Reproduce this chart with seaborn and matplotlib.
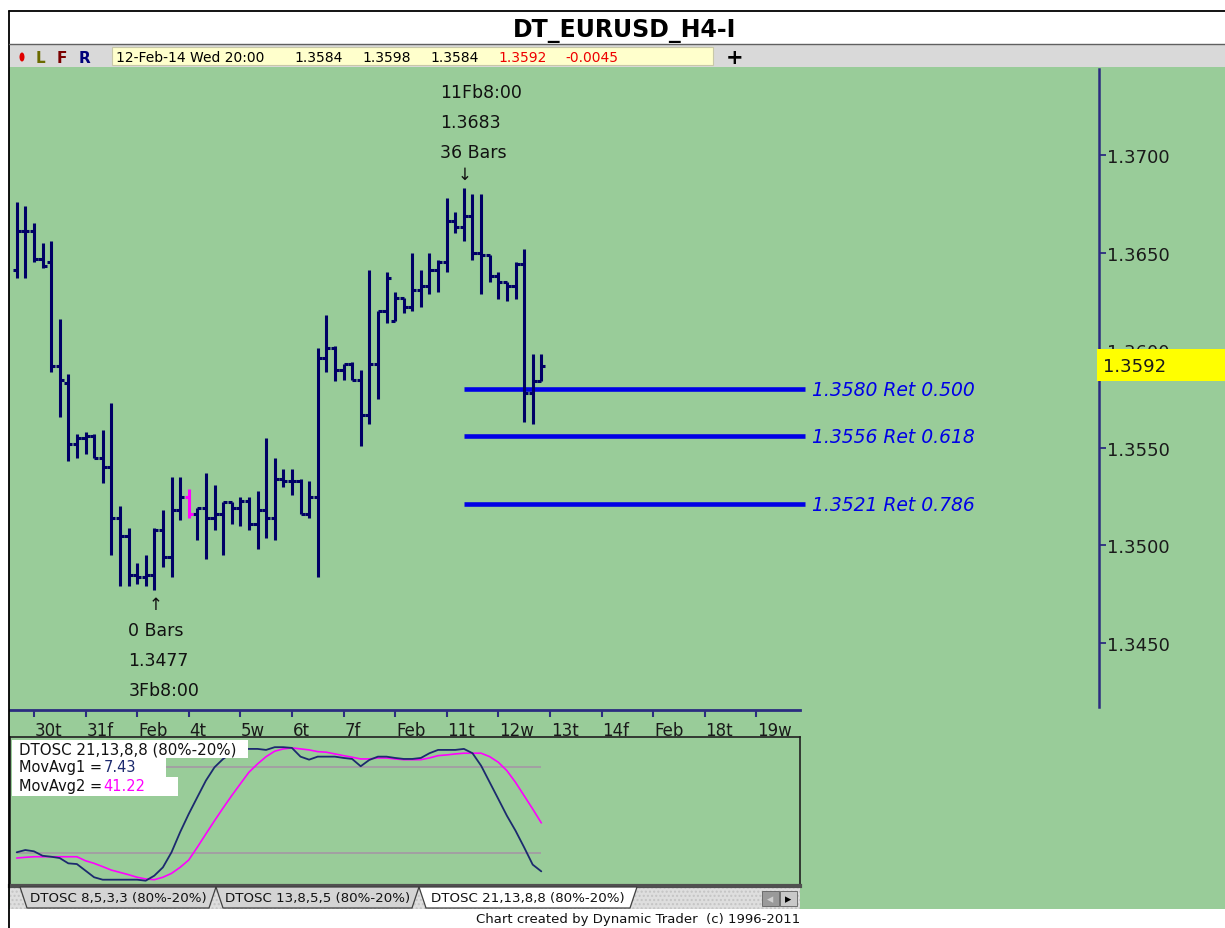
import numpy as np
import pandas as pd
import matplotlib
matplotlib.use("Agg")
import matplotlib.pyplot as plt
import seaborn as sns
from matplotlib.patches import Rectangle, Polygon, Ellipse

# ---------------- data ----------------
opens = [1.3641, 1.3661, 1.3661, 1.3647, 1.3645, 1.3592, 1.3583, 1.3552, 1.3555, 1.3556,
         1.3545, 1.3540, 1.3514, 1.3505, 1.3485, 1.3484, 1.3485, 1.3508, 1.3494, 1.3518,
         1.3525, 1.3516, 1.3519, 1.3514, 1.3516, 1.3522, 1.3519, 1.3523, 1.3511, 1.3518,
         1.3514, 1.3534, 1.3533, 1.3533, 1.3516, 1.3525, 1.3596, 1.3601, 1.3590, 1.3593,
         1.3585, 1.3567, 1.3593, 1.3620, 1.3615, 1.3627, 1.3622, 1.3631, 1.3633, 1.3641,
         1.3645, 1.3666, 1.3663, 1.3669, 1.3650, 1.3649, 1.3638, 1.3635, 1.3633, 1.3644,
         1.3578, 1.3584]
highs = [1.3676, 1.3674, 1.3665, 1.3655, 1.3656, 1.3616, 1.3588, 1.3557, 1.3558, 1.3557,
         1.3559, 1.3573, 1.3520, 1.3509, 1.3491, 1.3495, 1.3509, 1.3518, 1.3535, 1.3535,
         1.3529, 1.3519, 1.3537, 1.3531, 1.3522, 1.3522, 1.3525, 1.3525, 1.3528, 1.3555,
         1.3545, 1.3539, 1.3539, 1.3534, 1.3533, 1.3601, 1.3618, 1.3602, 1.3593, 1.3594,
         1.3590, 1.3641, 1.3620, 1.3640, 1.3630, 1.3627, 1.3650, 1.3641, 1.3650, 1.3646,
         1.3678, 1.3671, 1.3683, 1.3680, 1.3680, 1.3649, 1.3640, 1.3635, 1.3645, 1.3652,
         1.3598, 1.3598]
lows = [1.3637, 1.3637, 1.3645, 1.3642, 1.3589, 1.3566, 1.3543, 1.3545, 1.3547, 1.3545,
        1.3532, 1.3495, 1.3479, 1.3479, 1.3480, 1.3479, 1.3477, 1.3489, 1.3484, 1.3513,
        1.3514, 1.3503, 1.3493, 1.3508, 1.3495, 1.3511, 1.3510, 1.3508, 1.3498, 1.3504,
        1.3503, 1.3530, 1.3526, 1.3516, 1.3514, 1.3484, 1.3589, 1.3584, 1.3585, 1.3585,
        1.3551, 1.3562, 1.3575, 1.3614, 1.3615, 1.3619, 1.3620, 1.3622, 1.3629, 1.3630,
        1.3640, 1.3660, 1.3656, 1.3646, 1.3629, 1.3635, 1.3626, 1.3625, 1.3626, 1.3563,
        1.3562, 1.3584]
closes = [1.3661, 1.3661, 1.3647, 1.3643, 1.3592, 1.3585, 1.3552, 1.3555, 1.3556, 1.3545,
          1.3540, 1.3514, 1.3505, 1.3485, 1.3484, 1.3485, 1.3508, 1.3494, 1.3518, 1.3525,
          1.3516, 1.3519, 1.3514, 1.3516, 1.3522, 1.3519, 1.3523, 1.3511, 1.3518, 1.3514,
          1.3534, 1.3533, 1.3533, 1.3516, 1.3525, 1.3596, 1.3601, 1.3590, 1.3593, 1.3585,
          1.3567, 1.3593, 1.3620, 1.3637, 1.3627, 1.3622, 1.3631, 1.3633, 1.3641, 1.3645,
          1.3666, 1.3663, 1.3669, 1.3650, 1.3649, 1.3638, 1.3635, 1.3633, 1.3644, 1.3578,
          1.3584, 1.3592]
highlight_bar = 20

osc_fast = [20.7, 22.3, 21.4, 18.3, 17.6, 16.7, 13.0, 12.5, 7.9, 3.3,
            1.6, 1.6, 1.6, 1.6, 1.6, 0.9, 4.4, 10.2, 20.7, 34.7,
            47.4, 59.1, 70.7, 80.0, 85.8, 90.0, 92.5, 92.8, 92.8, 92.1,
            94.0, 94.0, 93.5, 87.4, 85.3, 87.4, 87.4, 87.4, 86.5, 85.8,
            80.7, 85.1, 87.4, 87.4, 86.5, 85.8, 85.8, 86.5, 89.8, 92.1,
            92.1, 92.1, 92.8, 89.8, 81.1, 69.5, 57.9, 46.2, 35.8, 24.2,
            12.1, 7.4]
osc_slow = [16.7, 17.2, 17.6, 17.6, 17.6, 17.6, 17.6, 17.6, 14.8, 13.0,
            10.7, 8.3, 6.7, 5.1, 3.3, 2.1, 1.6, 3.3, 6.0, 10.2,
            15.3, 24.2, 33.5, 42.7, 51.6, 60.2, 68.4, 76.5, 82.3, 87.4,
            91.2, 92.8, 93.5, 92.8, 92.1, 90.9, 90.5, 89.3, 88.1, 87.0,
            85.8, 85.8, 86.5, 86.5, 85.8, 85.3, 85.3, 85.3, 86.5, 88.1,
            88.6, 89.3, 89.8, 89.8, 89.8, 87.4, 83.5, 77.6, 69.5, 60.2,
            50.9, 41.2]
osc_levels = [80, 20]

day_start_bars = [2, 8, 14, 20, 26, 32, 38, 44, 50, 56, 62, 68, 74, 80, 86]
day_labels = ['30t', '31f', 'Feb', '4t', '5w', '6t', '7f', 'Feb', '11t', '12w',
              '13t', '14f', 'Feb', '18t', '19w']

price_ticks = [1.3450, 1.3500, 1.3550, 1.3600, 1.3650, 1.3700]
fib_levels = [1.3580, 1.3556, 1.3521]
fib_ratios = [0.500, 0.618, 0.786]
high_bar, low_bar = 52, 16
high_label = ['11Fb8:00', '1.3683', '36 Bars']
low_label = ['0 Bars', '1.3477', '3Fb8:00']
info_text = '12-Feb-14 Wed 20:00'
info_change = -0.0045
osc_tabs = ['DTOSC 8,5,3,3 (80%-20%)', 'DTOSC 13,8,5,5 (80%-20%)', 'DTOSC 21,13,8,8 (80%-20%)']
mov1_val, mov2_val = 7.43, 41.22

# ---------------- style ----------------
sns.set_theme(style='white')
plt.rcParams['font.family'] = ['DejaVu Sans']

GREEN = '#99cc99'
NAVY = '#000066'
AXBLUE = '#2b2b80'
FIB = '#0000e6'
MAG = '#ff00ff'

W, H = 1225, 929
fig = plt.figure(figsize=(W / 100, H / 100), dpi=100)
fig.patch.set_facecolor('white')


def fr(x0, y0, x1, y1):
    return [x0 / W, 1 - y1 / H, (x1 - x0) / W, (y1 - y0) / H]


# background layer
bg = fig.add_axes([0, 0, 1, 1], zorder=-5)
bg.set_xlim(0, W); bg.set_ylim(H, 0); bg.axis('off')
bg.add_patch(Rectangle((9, 68), W - 9, 842, fc=GREEN, ec='none'))
bg.add_patch(Rectangle((9, 45), W - 9, 23, fc='#d9d9d9', ec='none'))
bg.add_patch(Rectangle((112, 48), 601, 18, fc='#ffffcc', ec='#c8c8a8', lw=0.8))
bg.add_patch(Rectangle((10, 887), 790, 23, fc='#dedede', ec='#c4c4c4', lw=0, hatch='....'))

# ---------------- price panel ----------------
x_left, x_px0, px_per_bar = 10, 16.7, 8.6
idx = np.arange(len(closes))
xl = (x_left - x_px0) / px_per_bar
pax = fig.add_axes(fr(10, 70, 1099, 708))
pax.set_facecolor('none')
pax.set_xlim(xl, (1099 - x_px0) / px_per_bar)
pax.set_ylim(1.34172, 1.37441)
bar_cols = [MAG if i == highlight_bar else NAVY for i in idx]
pax.vlines(idx, lows, highs, colors=bar_cols, lw=2.2, zorder=3)
pax.hlines(opens, idx - 0.48, idx, colors=bar_cols, lw=2.2, zorder=3)
pax.hlines(closes, idx, idx + 0.48, colors=bar_cols, lw=2.2, zorder=3)

fib_end = 91.7
pax.hlines(fib_levels, high_bar, fib_end, colors=FIB, lw=3.3, zorder=2)
for lv, r in zip(fib_levels, fib_ratios):
    pax.text(92.5, lv, f'{lv:.4f} Ret {r:.3f}', color=FIB, fontsize=13.5,
             style='italic', va='center', ha='left')

for s in ['left', 'top', 'bottom']:
    pax.spines[s].set_visible(False)
pax.spines['right'].set_color(AXBLUE)
pax.spines['right'].set_linewidth(1.8)
pax.set_xticks([])
pax.yaxis.tick_right()
pax.set_yticks(price_ticks)
pax.set_yticklabels([f'{t:.4f}' for t in price_ticks])
pax.tick_params(axis='y', direction='out', length=5, width=1.3, color=AXBLUE,
                labelcolor='#1a1a1a', labelsize=13, pad=1)

# annotations for swing high / low
hp, lp = highs[high_bar], lows[low_bar]
for k, t in enumerate(high_label):
    pax.annotate(t, (high_bar, hp), xytext=(-24, 96 - 30 * k), textcoords='offset pixels',
                 fontsize=12.5, color='#111111', va='center', ha='left')
pax.annotate('\u2193', (high_bar, hp), xytext=(1, 14), textcoords='offset pixels',
             fontsize=12, color='#111111', va='center', ha='center')
for k, t in enumerate(low_label):
    pax.annotate(t, (low_bar, lp), xytext=(-26, -40 - 30 * k), textcoords='offset pixels',
                 fontsize=12.5, color='#111111', va='center', ha='left')
pax.annotate('\u2191', (low_bar, lp), xytext=(1, -14), textcoords='offset pixels',
             fontsize=12, color='#111111', va='center', ha='center')

# ---------------- date axis ----------------
xr = (800 - x_px0) / px_per_bar
dax = fig.add_axes(fr(10, 711, 800, 738))
dax.set_facecolor('none')
dax.set_xlim(xl, xr); dax.set_ylim(0, 1)
for s in ['left', 'right', 'bottom']:
    dax.spines[s].set_visible(False)
dax.spines['top'].set_color(AXBLUE)
dax.spines['top'].set_linewidth(2)
dax.set_yticks([])
dax.xaxis.tick_top()
dax.set_xticks(day_start_bars)
dax.set_xticklabels([])
dax.tick_params(axis='x', direction='in', length=5, width=1.5, color=AXBLUE)
for b, lab in zip(day_start_bars, day_labels):
    dax.text(b + 0.1, 0.26, lab, fontsize=12, color='#1a1a1a', ha='left', va='center')

# ---------------- oscillator ----------------
oax = fig.add_axes(fr(10, 738, 800, 887))
oax.set_facecolor('none')
odf = pd.DataFrame({'bar': idx, 'fast': osc_fast, 'slow': osc_slow})
oax.hlines(osc_levels, 0, idx[-1], colors='#a39ca3', lw=1.3, zorder=1)
sns.lineplot(data=odf, x='bar', y='slow', ax=oax, color=MAG, lw=1.2, zorder=2)
sns.lineplot(data=odf, x='bar', y='fast', ax=oax, color='#1c2a6e', lw=1.3, zorder=3)
oax.set_xlim(xl, xr)
oax.set_ylim(-2.8, 101.1)
oax.set_xticks([]); oax.set_yticks([])
oax.set_xlabel(''); oax.set_ylabel('')
for s in ['left', 'right', 'top']:
    oax.spines[s].set_color('#202020')
    oax.spines[s].set_linewidth(1.2)
oax.spines['bottom'].set_color('#505050')
oax.spines['bottom'].set_linewidth(3)

# ---------------- overlay (header, labels, tabs) ----------------
ov = fig.add_axes([0, 0, 1, 1], zorder=10)
ov.set_xlim(0, W); ov.set_ylim(H, 0); ov.axis('off')

# frame
ov.plot([9, W], [12, 12], color='#000000', lw=1.3)
ov.plot([9, 9], [12, H], color='#000000', lw=1.3)
ov.plot([9, W], [45, 45], color='#606060', lw=1.0)
ov.text(625, 31, 'DT_EURUSD_H4-I', fontsize=17, fontweight='bold', ha='center', va='center',
        color='#000000')

# info bar
ov.add_patch(Ellipse((22, 58), 5, 9, fc='#e00000', ec='none'))
ov.text(40, 58, 'L', color='#6b6b00', fontsize=11, fontweight='bold', ha='center', va='center')
ov.text(62, 58, 'F', color='#7a0000', fontsize=11, fontweight='bold', ha='center', va='center')
ov.text(85, 58, 'R', color='#00007a', fontsize=11, fontweight='bold', ha='center', va='center')
ov.text(116, 58, info_text, fontsize=10, ha='left', va='center', color='#000000')
for xx, v in zip([294, 362, 430], [opens[-1], highs[-1], lows[-1]]):
    ov.text(xx, 58, f'{v:.4f}', fontsize=10, ha='left', va='center', color='#000000')
ov.text(498, 58, f'{closes[-1]:.4f}', fontsize=10, ha='left', va='center', color='#ee0000')
ov.text(565, 58, f'{info_change:.4f}', fontsize=10, ha='left', va='center', color='#ee0000')
ov.text(735, 58, '+', fontsize=15, fontweight='bold', ha='center', va='center', color='#000000')

# last price marker
ov.add_patch(Rectangle((1097, 350), W - 1097, 32, fc='#ffff00', ec='none'))
ov.text(1103, 367, f'{closes[-1]:.4f}', fontsize=13, ha='left', va='center', color='#1a1a1a')

# oscillator legend
ov.add_patch(Rectangle((12, 741), 236, 18, fc='white', ec='none'))
ov.text(19, 750, osc_tabs[2], fontsize=10.8, ha='left', va='center', color='#111111')
ov.add_patch(Rectangle((12, 759), 154, 19, fc='white', ec='none'))
t1 = ov.text(19, 768, 'MovAvg1 =', fontsize=10.5, ha='left', va='center', color='#111111')
ov.annotate(f'{mov1_val:.2f}', xy=(1, 0.5), xycoords=t1, xytext=(1, 0),
            textcoords='offset points', fontsize=10.5, ha='left', va='center', color='#1c2a6e')
ov.add_patch(Rectangle((12, 778), 166, 19, fc='white', ec='none'))
t2 = ov.text(19, 787, 'MovAvg2 =', fontsize=10.5, ha='left', va='center', color='#111111')
ov.annotate(f'{mov2_val:.2f}', xy=(1, 0.5), xycoords=t2, xytext=(1, 0),
            textcoords='offset points', fontsize=10.5, ha='left', va='center', color=MAG)

# tabs
tab_x = [(20, 216), (216, 419), (419, 637)]
for k, ((a, b), lab) in enumerate(zip(tab_x, osc_tabs)):
    fc = 'white' if k == 2 else '#d4d4d4'
    ov.add_patch(Polygon([(a, 888), (a + 7, 909), (b - 7, 909), (b, 888)], closed=True,
                         fc=fc, ec='#404040', lw=0.9))
    ov.text((a + b) / 2, 899, lab, fontsize=9.6, ha='center', va='center', color='#111111')
ov.add_patch(Rectangle((762, 892), 17, 15, fc='#9a9a9a', ec='#606060', lw=0.6))
ov.add_patch(Rectangle((780, 892), 17, 15, fc='#c8c8c8', ec='#606060', lw=0.6))
ov.text(770.5, 899.5, '\u25c2', fontsize=9, ha='center', va='center', color='#d0d0d0')
ov.text(788.5, 899.5, '\u25b8', fontsize=9, ha='center', va='center', color='#000000')

ov.text(800, 920, 'Chart created by Dynamic Trader  (c) 1996-2011', fontsize=9.5,
        ha='right', va='center', color='#111111')

fig.savefig('out.png', dpi=100)
